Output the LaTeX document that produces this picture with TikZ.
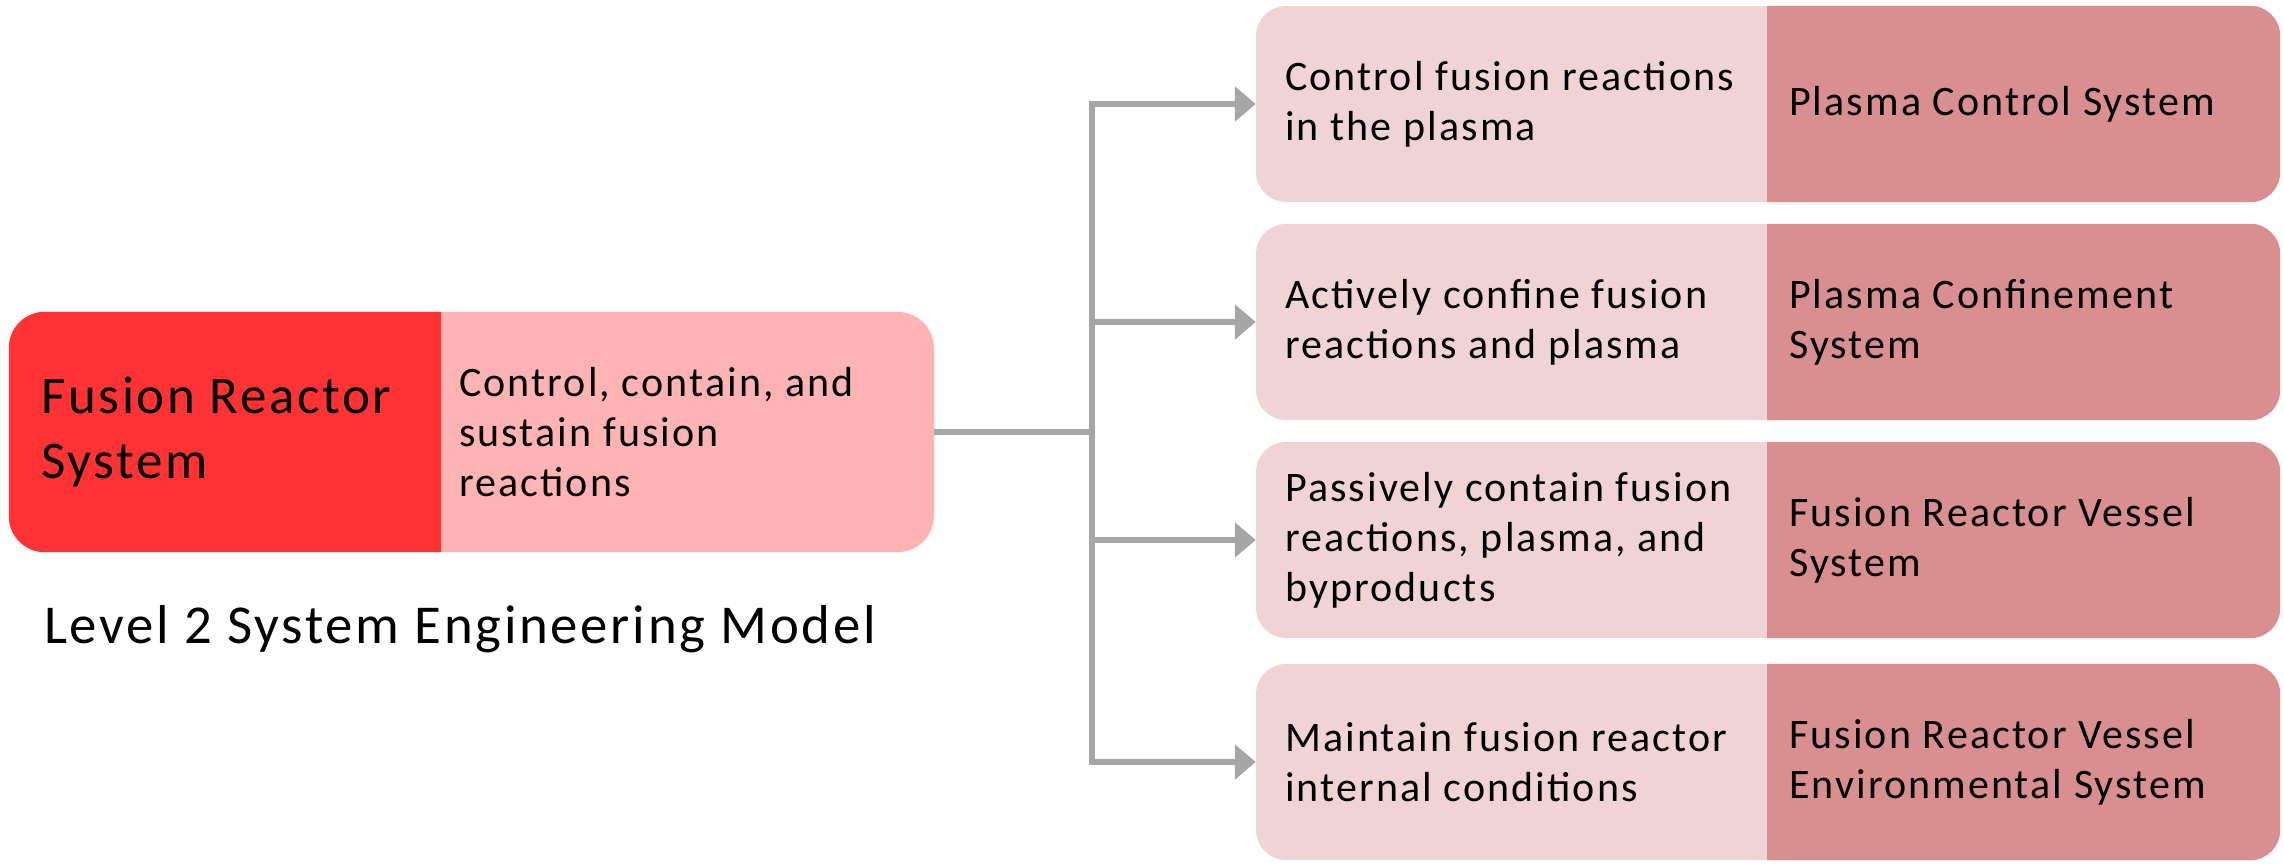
\documentclass[tikz,border=0pt]{standalone}
\usepackage{fontspec}
\setmainfont{Carlito}[LetterSpace=5]
\usetikzlibrary{arrows.meta}
\definecolor{mainred}{HTML}{FF3333}
\definecolor{mainlight}{HTML}{FFB3B3}
\definecolor{subleft}{HTML}{F0D4D5}
\definecolor{subright}{HTML}{D98E8F}
\definecolor{conngray}{HTML}{A6A6A6}
\tikzset{
  mainbox/.style={rectangle, rounded corners=36pt, fill=mainlight, minimum width=925pt, minimum height=240pt, inner sep=0pt},
  subbox/.style={rectangle, rounded corners=30pt, fill=subleft, minimum width=1024pt, minimum height=196pt, inner sep=0pt},
  bodytxt/.style={anchor=west, align=left, inner sep=0pt, font=\fontsize{42}{50}\selectfont},
  bigtxt/.style={anchor=west, align=left, inner sep=0pt, font=\fontsize{53}{65}\selectfont},
  captxt/.style={anchor=west, align=left, inner sep=0pt, font=\fontsize{54.8}{65}\selectfont},
  conn/.style={draw=conngray, line width=5.5pt},
  connarrow/.style={conn, -{Triangle[length=21pt, width=34pt]}}
}
\begin{document}
\begin{tikzpicture}[x=1pt, y=-1pt]
\useasboundingbox (0,0) rectangle (2284,865);
% main box
\node[mainbox] (main) at (471.5,432) {};
\begin{scope}
  \clip (0,0) rectangle (441,865);
  \fill[mainred, rounded corners=36pt] (main.north west) rectangle (main.south east);
\end{scope}
\node[bigtxt] (maint) at (41,432) {Fusion Reactor\\System};
\node[bodytxt] (mainf) at (459,432) {Control, contain, and\\sustain fusion\\reactions};
\node[captxt] (level) at (44,629) {Level 2 System Engineering Model};
% sub boxes
\foreach \i/\y in {1/104, 2/322, 3/540, 4/762} {
  \node[subbox] (b\i) at (1768,\y) {};
  \begin{scope}
    \clip (1767,0) rectangle (2284,865);
    \fill[subright, rounded corners=30pt] (b\i.north west) rectangle (b\i.south east);
  \end{scope}
}
\node[bodytxt] (b1l) at (1285,104) {Control fusion reactions\\in the plasma};
\node[bodytxt] (b1r) at (1789,104) {Plasma Control System};
\node[bodytxt] (b2l) at (1285,322) {Actively confine fusion\\reactions and plasma};
\node[bodytxt] (b2r) at (1789,322) {Plasma Confinement\\System};
\node[bodytxt] (b3l) at (1285,540) {Passively contain fusion\\reactions, plasma, and\\byproducts};
\node[bodytxt] (b3r) at (1789,540) {Fusion Reactor Vessel\\System};
\node[bodytxt] (b4l) at (1285,762) {Maintain fusion reactor\\internal conditions};
\node[bodytxt] (b4r) at (1789,762) {Fusion Reactor Vessel\\Environmental System};
% connectors
\coordinate (j) at (1092,432);
\draw[conn] (main.east) -- (j);
\foreach \i in {1,2,3,4} {
  \draw[connarrow] (j) |- (b\i.west);
}
\end{tikzpicture}
\end{document}
